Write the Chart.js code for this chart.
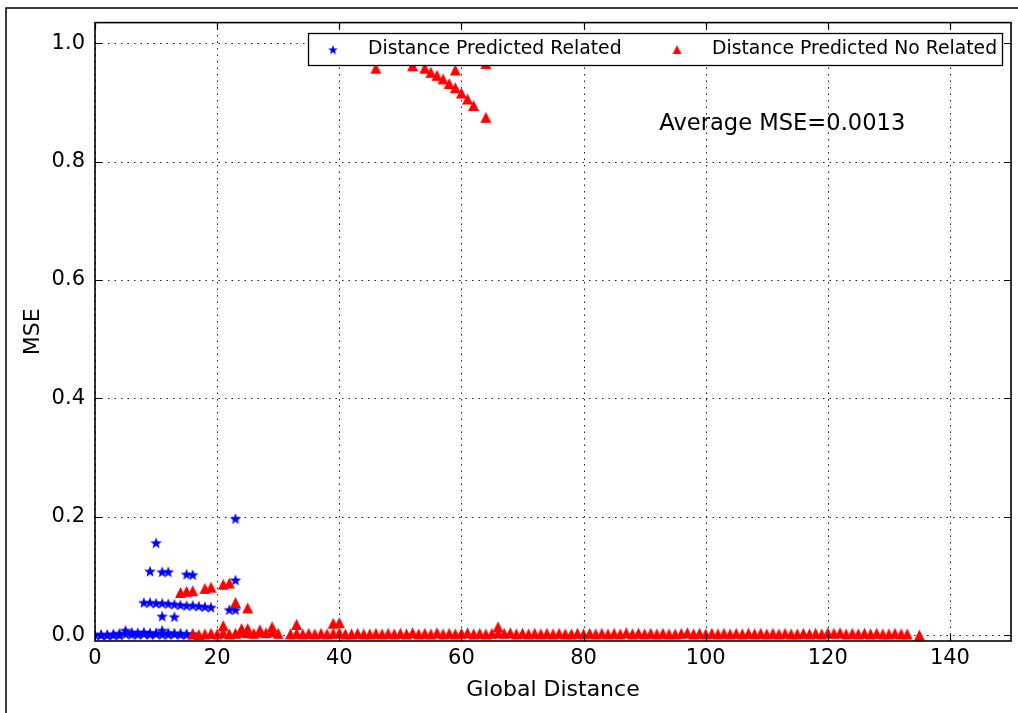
<!DOCTYPE html>
<html><head><meta charset="utf-8">
<script src="https://cdn.jsdelivr.net/npm/chart.js@4/dist/chart.umd.min.js"></script>
<style>html,body{margin:0;padding:0;background:#fff;}#wrap{width:1018px;height:713px;position:relative;}</style>
</head><body><div id="wrap"><canvas id="c" width="1018" height="713"></canvas></div>
<script>
const seriesLabels = ['Distance Predicted Related', 'Distance Predicted No Related'];
const axisTitleX = 'Global Distance';
const axisTitleY = 'MSE';
const annotationText = 'Average MSE=0.0013';
const xTicks = [0, 20, 40, 60, 80, 100, 120, 140];
const yTicks = [0.0, 0.2, 0.4, 0.6, 0.8, 1.0];
const xRange = [0, 150];
const yRange = [-0.01, 1.035];

const relatedX = [0,1,2,3,4,5,6,7,8,9,10,11,12,13,14,15,16,
  1,2,3,4,5,6,7,8,9,10,11,12,13,14,15,
  8,9,10,11,12,13,14,15,16,17,18,19,
  9,10,11,12,15,16,11,13,22,23,23,23];
const relatedY = [0.001,0.001,0.001,0.002,0.003,0.008,0.005,0.004,0.005,0.004,0.004,0.008,0.004,0.003,0.003,0.002,0.002,
  0.000,0.000,0.000,0.000,0.002,0.001,0.001,0.002,0.001,0.002,0.001,0.001,0.002,0.001,0.001,
  0.055,0.055,0.054,0.054,0.053,0.052,0.051,0.050,0.050,0.049,0.048,0.047,
  0.108,0.156,0.107,0.107,0.103,0.102,0.032,0.031,0.043,0.043,0.093,0.197];

const noRelatedX = [16,17,18,19,20,21,22,23,24,25,26,27,28,29,30,
  32,33,34,35,36,37,38,39,40,41,42,43,44,45,46,47,48,49,50,51,
  52,53,54,55,56,57,58,59,60,61,62,63,64,65,66,67,68,69,70,71,
  72,73,74,75,76,77,78,79,80,81,82,83,84,85,86,87,88,89,90,91,
  92,93,94,95,96,97,98,99,100,101,102,103,104,105,106,107,108,109,110,111,
  112,113,114,115,116,117,118,119,120,121,122,123,124,125,126,127,128,129,130,131,
  132,133,135,
  14,15,16,18,19,21,22,23,25,21,24,25,27,29,33,39,40,66,
  46,52,54,55,56,57,58,59,59,60,61,62,64,64];
const noRelatedY = [0.002,0.001,0.002,0.003,0.002,0.004,0.002,0.003,0.005,0.004,0.003,0.005,0.004,0.006,0.003,
  0.002,0.003,0.002,0.003,0.002,0.003,0.002,0.003,0.004,0.002,0.002,0.003,0.002,0.002,0.003,0.002,0.003,0.002,0.003,0.002,
  0.004,0.002,0.003,0.002,0.004,0.002,0.003,0.002,0.003,0.004,0.002,0.003,0.002,0.003,0.004,0.003,0.004,0.002,0.003,0.002,
  0.003,0.002,0.003,0.002,0.003,0.002,0.002,0.003,0.002,0.003,0.002,0.003,0.002,0.003,0.002,0.004,0.002,0.003,0.002,0.003,
  0.002,0.003,0.002,0.002,0.003,0.004,0.002,0.003,0.002,0.003,0.002,0.003,0.002,0.003,0.002,0.003,0.002,0.003,0.002,0.003,
  0.002,0.003,0.002,0.002,0.003,0.002,0.003,0.002,0.004,0.003,0.004,0.002,0.003,0.002,0.003,0.002,0.003,0.002,0.002,0.003,
  0.002,0.002,0.000,
  0.072,0.074,0.075,0.079,0.081,0.086,0.088,0.055,0.046,0.016,0.011,0.011,0.009,0.014,0.018,0.020,0.021,0.014,
  0.958,0.962,0.958,0.951,0.946,0.940,0.932,0.955,0.925,0.916,0.906,0.895,0.875,0.966];

const FONT = "'DejaVu Sans', sans-serif";

function makeStar(color, R) {
  const s = Math.ceil(2 * R + 2);
  const c = document.createElement('canvas'); c.width = s; c.height = s;
  const g = c.getContext('2d'); g.fillStyle = color; g.beginPath();
  for (let i = 0; i < 10; i++) {
    const r = (i % 2) ? R * 0.42 : R;
    const a = -Math.PI / 2 + i * Math.PI / 5;
    g.lineTo(s / 2 + r * Math.cos(a), s / 2 + 0.6 + r * Math.sin(a));
  }
  g.closePath(); g.fill();
  return c;
}
function makeTri(color, w) {
  const s = Math.ceil(w + 2);
  const c = document.createElement('canvas'); c.width = s; c.height = s;
  const g = c.getContext('2d'); g.fillStyle = color; g.beginPath();
  g.moveTo(s / 2, 1); g.lineTo(s / 2 + w / 2, 1 + w); g.lineTo(s / 2 - w / 2, 1 + w);
  g.closePath(); g.fill();
  return c;
}
const starImg = makeStar('#0000ff', 6);
const triImg = makeTri('#ff0000', 11);
const starLeg = makeStar('#0000ff', 5);
const triLeg = makeTri('#ff0000', 9);

const toPts = (xs, ys) => xs.map((x, i) => ({x: x, y: ys[i]}));

const framePlugin = {
  id: 'framePlugin',
  beforeDraw(chart) {
    const ctx = chart.ctx;
    ctx.save();
    ctx.fillStyle = '#fff'; ctx.fillRect(0, 0, chart.width, chart.height);
    ctx.strokeStyle = '#000'; ctx.lineWidth = 1.5;
    ctx.beginPath(); ctx.moveTo(6, chart.height); ctx.lineTo(6, 8); ctx.lineTo(chart.width, 8); ctx.stroke();
    ctx.restore();
  },
  beforeDatasetsDraw(chart) {
    const {ctx, chartArea: a, scales: {x, y}} = chart;
    ctx.save();
    ctx.strokeStyle = '#222'; ctx.lineWidth = 1; ctx.setLineDash([1.5, 5]);
    xTicks.forEach(v => { const px = Math.round(x.getPixelForValue(v)) + 0.5; ctx.beginPath(); ctx.moveTo(px, a.bottom); ctx.lineTo(px, a.top); ctx.stroke(); });
    yTicks.forEach(v => { const py = Math.round(y.getPixelForValue(v)) + 0.5; ctx.beginPath(); ctx.moveTo(a.left, py); ctx.lineTo(a.right, py); ctx.stroke(); });
    ctx.restore();
  },
  afterDatasetsDraw(chart) {
    const {ctx, chartArea: a, scales: {x, y}} = chart;
    ctx.save();
    ctx.strokeStyle = '#000'; ctx.lineWidth = 1.2; ctx.setLineDash([]);
    const tl = 7;
    xTicks.forEach(v => { const px = Math.round(x.getPixelForValue(v)) + 0.5;
      ctx.beginPath(); ctx.moveTo(px, a.bottom); ctx.lineTo(px, a.bottom - tl); ctx.moveTo(px, a.top); ctx.lineTo(px, a.top + tl); ctx.stroke(); });
    yTicks.forEach(v => { const py = Math.round(y.getPixelForValue(v)) + 0.5;
      ctx.beginPath(); ctx.moveTo(a.left, py); ctx.lineTo(a.left + tl, py); ctx.moveTo(a.right, py); ctx.lineTo(a.right - tl, py); ctx.stroke(); });
    ctx.lineWidth = 1.6;
    ctx.strokeRect(a.left, a.top, a.right - a.left, a.bottom - a.top);
    ctx.restore();
  },
  afterDraw(chart) {
    const {ctx, chartArea: a, scales: {x, y}} = chart;
    ctx.save();
    ctx.fillStyle = '#000'; ctx.font = '22.6px ' + FONT; ctx.textBaseline = 'middle'; ctx.textAlign = 'left';
    ctx.fillText(annotationText, x.getPixelForValue(92.4), y.getPixelForValue(0.863));
    const lx = 308, ly = 33, lw = 694, lh = 32;
    ctx.fillStyle = '#fff'; ctx.fillRect(lx, ly, lw, lh);
    ctx.strokeStyle = '#000'; ctx.lineWidth = 1.3; ctx.strokeRect(lx + 0.5, ly + 0.5, lw, lh);
    const cy = ly + lh / 2 + 0.5;
    ctx.drawImage(starLeg, 333 - starLeg.width / 2, cy - starLeg.height / 2);
    ctx.drawImage(triLeg, 677 - triLeg.width / 2, cy - triLeg.height / 2);
    ctx.fillStyle = '#000'; ctx.font = '18.8px ' + FONT; ctx.textBaseline = 'middle';
    ctx.fillText(seriesLabels[0], 368, cy);
    ctx.fillText(seriesLabels[1], 712, cy);
    ctx.restore();
  }
};

new Chart(document.getElementById('c'), {
  type: 'scatter',
  data: {
    datasets: [
      {label: seriesLabels[0], data: toPts(relatedX, relatedY), pointStyle: starImg, order: 1, backgroundColor: '#0000ff', borderColor: '#0000ff'},
      {label: seriesLabels[1], data: toPts(noRelatedX, noRelatedY), pointStyle: triImg, order: 0, backgroundColor: '#ff0000', borderColor: '#ff0000'}
    ]
  },
  options: {
    responsive: false, animation: false, devicePixelRatio: 1,
    layout: {padding: {left: 0, top: 22, right: 6, bottom: 0}},
    plugins: {legend: {display: false}, tooltip: {enabled: false}},
    elements: {point: {radius: 6, hoverRadius: 6}},
    scales: {
      x: {
        type: 'linear', min: xRange[0], max: xRange[1],
        afterBuildTicks: s => { s.ticks = xTicks.map(v => ({value: v})); },
        afterFit: s => { s.height = 72; },
        grid: {display: false, drawTicks: false},
        border: {display: false},
        ticks: {color: '#000', font: {family: FONT, size: 21}, padding: 5, maxRotation: 0, autoSkip: false, callback: v => String(v)},
        title: {display: true, text: axisTitleX, color: '#000', font: {family: FONT, size: 22}, padding: {top: 0, bottom: 10}}
      },
      y: {
        type: 'linear', min: yRange[0], max: yRange[1],
        afterBuildTicks: s => { s.ticks = yTicks.map(v => ({value: v})); },
        afterFit: s => { s.width = 95; },
        grid: {display: false, drawTicks: false},
        border: {display: false},
        ticks: {color: '#000', font: {family: FONT, size: 21}, padding: 10, autoSkip: false, callback: v => Number(v).toFixed(1)},
        title: {display: true, text: axisTitleY, color: '#000', font: {family: FONT, size: 22}, padding: {top: 20, bottom: 0}}
      }
    }
  },
  plugins: [framePlugin]
});
</script></body></html>
